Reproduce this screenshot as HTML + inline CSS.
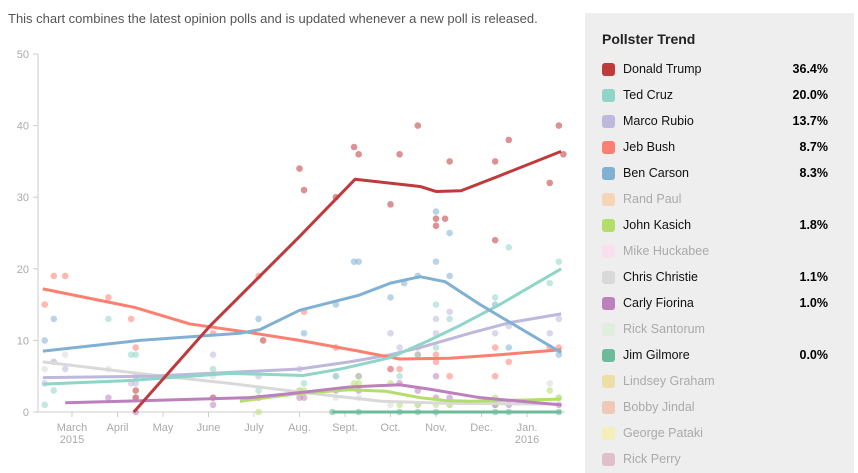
<!DOCTYPE html>
<html><head><meta charset="utf-8"><style>
body{margin:0;width:858px;height:463px;overflow:hidden;background:#fff;font-family:"Liberation Sans",Arial,sans-serif;position:relative}
#cap{position:absolute;left:8px;top:11px;font-size:13px;color:#555}
#legend{position:absolute;left:585px;top:13px;width:269px;height:460px;background:#eeeeee}
#legend h3{position:absolute;left:17px;top:18px;margin:0;font-size:14px;font-weight:bold;color:#222}
.row{position:absolute;left:17px;width:226px;height:16px;font-size:12.5px}
.sw{position:absolute;left:0;top:1px;width:13px;height:13px;border-radius:3px}
.nm{position:absolute;left:21px;top:0}
.vl{position:absolute;right:0;top:0;font-weight:bold}
svg{position:absolute;left:0;top:0}
</style></head><body>
<div id="cap">This chart combines the latest opinion polls and is updated whenever a new poll is released.</div>
<svg id="chart" width="580" height="463"></svg>
<div id="legend"><h3>Pollster Trend</h3></div>
<script>
const names=["Donald Trump","Ted Cruz","Marco Rubio","Jeb Bush","Ben Carson","Rand Paul","John Kasich","Mike Huckabee","Chris Christie","Carly Fiorina","Rick Santorum","Jim Gilmore","Lindsey Graham","Bobby Jindal","George Pataki","Rick Perry"];
const colors=["#c0393b","#8fd5c8","#bdb8dc","#fb8072","#80b1d3","#f5d5b5","#b3de69","#f8e0ee","#d9d9d9","#bc80bd","#e0eedd","#6cbc9c","#eddea6","#efc8b8","#f4eeb8","#e0c0c8"];
const latest=["36.4%","20.0%","13.7%","8.7%","8.3%","","1.8%","","1.1%","1.0%","","0.0%","","","",""];
const monthLabels=["March","April","May","June","July","Aug.","Sept.","Oct.","Nov.","Dec.","Jan."];
const yTicks=[0,10,20,30,40,50];
// trend lines: [month offset from Mar 1, value]
const trump=[[1.36,0],[3.03,12],[5.0,24.5],[6.22,32.5],[7.65,31.5],[8.0,30.8],[8.55,30.9],[9.4,33],[10.75,36.4]];
const cruz=[[-0.64,3.9],[1.27,4.4],[3.47,5.4],[5.08,5.1],[5.9,6],[7,7.6],[7.85,10],[8.5,12],[9.4,15],[10.75,20]];
const rubio=[[-0.64,4.8],[1.71,5.0],[5.0,6.0],[6.1,7],[7,8],[7.65,9],[8.75,11],[9.63,12.5],[10.75,13.7]];
const bush=[[-0.64,17.2],[1.38,14.6],[2.59,12.3],[3.9,11.1],[5.0,10.0],[6.3,8.5],[7.2,7.4],[8.3,7.5],[9.4,8.0],[10.75,8.7]];
const carson=[[-0.64,8.5],[1.49,10],[3.69,11],[4.13,11.5],[5.0,14.2],[6.3,16.3],[7,18],[7.65,18.9],[8.2,18.2],[8.97,15],[10.75,8.3]];
const christie=[[-0.64,7],[1.71,5.2],[3.47,4.0],[5.0,2.8],[6.8,1.5],[8.3,1.2],[10.75,1.1]];
const fiorina=[[-0.15,1.3],[1.71,1.6],[3.9,2.0],[5.0,2.7],[6.1,3.5],[7.2,3.8],[7.85,3.2],[8.97,2.0],[10.75,1.0]];
const kasich=[[3.69,1.5],[5.0,2.6],[6.1,3.1],[6.9,2.9],[7.65,2.0],[8.2,1.6],[8.75,1.5],[10.75,1.8]];
const gilmore=[[5.72,0],[10.75,0]];
// poll dots: [month, value]
const trumpPolls=[[1.4,3],[1.4,2],[3.1,2],[4.2,10],[5.0,34],[5.1,31],[5.8,30],[6.2,37],[6.3,36],[7.0,29],[7.2,36],[7.6,40],[8.0,27],[8.0,26],[8.2,27],[8.3,35],[9.3,24],[9.3,35],[9.6,38],[10.5,32],[10.7,40],[10.8,36]];
const carsonPolls=[[-0.6,10],[-0.4,13],[1.4,5],[4.1,13],[5.1,11],[5.8,15],[6.2,21],[6.3,21],[7.0,16],[7.3,18],[7.6,19],[8.0,28],[8.0,21],[8.3,25],[8.3,19],[9.3,15],[9.6,9],[10.7,8]];
const cruzPolls=[[-0.6,1],[-0.4,3],[0.8,13],[1.3,8],[1.4,8],[3.1,6],[4.1,3],[5.1,4],[5.8,5],[6.3,5],[7.2,5],[7.6,8],[8.0,15],[8.0,9],[8.3,13],[9.3,16],[9.6,23],[10.5,18],[10.7,21]];
const rubioPolls=[[-0.6,4],[-0.4,7],[-0.15,6],[1.3,4],[1.4,4],[3.1,8],[4.1,5],[5.0,6],[5.8,5],[7.0,11],[7.2,9],[7.6,9],[8.0,13],[8.0,11],[8.3,14],[9.3,11],[9.6,12],[10.5,11],[10.7,13]];
const bushPolls=[[-0.6,15],[-0.4,19],[-0.15,19],[0.8,16],[1.3,13],[1.4,9],[3.1,11],[4.1,19],[5.1,14],[5.8,9],[6.3,5],[7.0,6],[7.2,6],[7.6,8],[8.0,8],[8.0,7],[8.3,5],[9.3,9],[9.3,5],[9.6,7],[10.5,9],[10.7,9]];
const christiePolls=[[-0.6,6],[-0.4,7],[-0.15,8],[0.8,6],[1.4,2],[3.1,5],[5.0,3],[5.8,2],[6.3,2],[7.0,1],[7.6,1],[8.3,1],[10.5,4],[10.7,2]];
const fiorinaPolls=[[0.8,2],[1.4,0],[3.1,1],[4.1,2],[5.0,2],[5.1,2],[5.8,3],[6.3,3],[7.0,6],[7.2,4],[7.6,3],[8.0,2],[8.0,5],[8.3,2],[9.3,1],[9.6,1],[10.7,1]];
const kasichPolls=[[4.1,0],[5.0,3],[5.1,3],[6.2,4],[6.3,4],[7.0,4],[7.2,1],[7.6,1],[8.0,1],[8.3,1],[9.3,1],[9.3,2],[10.5,3],[10.7,2]];
const gilmorePolls=[[5.72,0],[6.3,0],[7.2,0],[7.6,0],[8.0,0],[9.3,0],[9.6,0],[10.7,0]];

const NS="http://www.w3.org/2000/svg",svg=document.getElementById('chart');
const X0=38,X1=565,Y0=412,Y50=54;
const xs=m=>72+m*45.5, ys=v=>Y0-(v/50)*(Y0-Y50);
function mk(t,a){const e=document.createElementNS(NS,t);for(const k in a)e.setAttribute(k,a[k]);svg.appendChild(e);return e;}
yTicks.forEach(t=>{const y=ys(t);
 const l=mk('line',{x1:X0-5,x2:X0,y1:y,y2:y,stroke:'#ccc'});
 const tx=mk('text',{x:X0-9,y:y+4,'text-anchor':'end','font-size':11,fill:'#aaa'});tx.textContent=t;});
const ya=mk('line',{x1:X0,x2:X0,y1:Y50,y2:Y0,stroke:'#ccc'});
const xa=mk('line',{x1:X0,x2:X1,y1:Y0,y2:Y0,stroke:'#ccc'});
monthLabels.forEach((m,i)=>{const x=xs(i);
 const l=mk('line',{x1:x,x2:x,y1:Y0,y2:Y0+5,stroke:'#ccc'});
 const t=mk('text',{x:x,y:Y0+19,'text-anchor':'middle','font-size':11,fill:'#aaa'});t.textContent=m;
 if(i==0||i==10){const t2=mk('text',{x:x,y:Y0+31,'text-anchor':'middle','font-size':11,fill:'#aaa'});t2.textContent=i==0?'2015':'2016';}
});
const series=[[christie,christiePolls,8],[gilmore,gilmorePolls,11],[kasich,kasichPolls,6],[fiorina,fiorinaPolls,9],[rubio,rubioPolls,2],[bush,bushPolls,3],[cruz,cruzPolls,1],[carson,carsonPolls,4],[trump,trumpPolls,0]];
series.forEach(([ln,pts,ci])=>{pts.forEach(p=>{const c=mk('circle',{cx:xs(p[0]),cy:ys(p[1]),r:3.3,fill:colors[ci],opacity:0.55});
 });});
series.forEach(([ln,pts,ci])=>{const p=mk('polyline',{points:ln.map(d=>xs(d[0])+','+ys(d[1])).join(' '),fill:'none',stroke:colors[ci],'stroke-width':3,'stroke-linejoin':'round'});
 });
const lg=document.getElementById('legend');
names.forEach((n,i)=>{const r=document.createElement('div');r.className='row';r.style.top=(49+i*26)+'px';
 
 const act=latest[i]!=='';
 r.innerHTML='<div class="sw" style="background:'+colors[i]+'"></div><div class="nm" style="color:'+(act?'#111':'#aaa')+'">'+n+'</div><div class="vl">'+latest[i]+'</div>';
 lg.appendChild(r);});
</script></body></html>
